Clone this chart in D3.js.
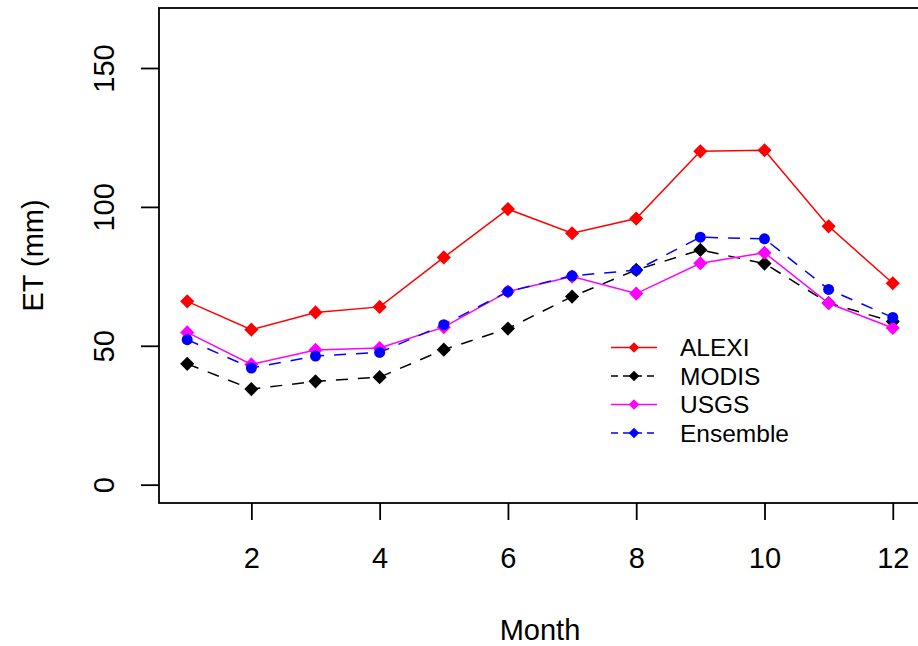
<!DOCTYPE html>
<html lang="en">
<head>
    <meta charset="UTF-8">
    <title>ET by month</title>
    <script src="https://d3js.org/d3.v7.min.js"></script>
    <style>
        body {
            margin: 0;
            background: #fff;
        }
        svg {
            font-family: "Liberation Sans", Arial, sans-serif;
        }
    </style>
</head>
<body>
    <div id="container"></div>

    <script>
        // data
        const months = [1, 2, 3, 4, 5, 6, 7, 8, 9, 10, 11, 12];
        const alexi = [66.0, 55.8, 62.0, 64.0, 81.8, 99.2, 90.5, 95.8, 120.0, 120.4, 93.0, 72.5];
        const modis = [43.5, 34.4, 37.2, 38.7, 48.6, 56.2, 67.7, 77.3, 84.5, 79.6, 65.4, 58.7];
        const usgs = [54.8, 43.3, 48.5, 49.2, 56.7, 69.5, 74.9, 68.8, 79.7, 83.5, 65.3, 56.4];
        const ensemble = [52.2, 42.0, 46.3, 47.6, 57.6, 69.5, 75.2, 77.2, 89.1, 88.5, 70.3, 60.2];

        const seriesNames = ['ALEXI', 'MODIS', 'USGS', 'Ensemble'];
        const xTicks = [2, 4, 6, 8, 10, 12];
        const yTicks = [0, 50, 100, 150];

        const width = 918, height = 646;
        const axisFont = '29px';

        const svg = d3.select('#container').append('svg')
            .attr('width', width)
            .attr('height', height);

        // R style: range extended by 4% on each side
        const x = d3.scaleLinear().domain([0.56, 12.44]).range([159, 921]);
        const y = d3.scaleLinear().domain([-6.6, 171.6]).range([503, 8]);

        const styles = {
            ALEXI: { color: '#ff0000', dash: null, shape: 'diamond' },
            MODIS: { color: '#000000', dash: '12,10', shape: 'diamond' },
            USGS: { color: '#ff00ff', dash: null, shape: 'diamond' },
            Ensemble: { color: '#0000ff', dash: '12,10', shape: 'circle' }
        };
        const values = { ALEXI: alexi, MODIS: modis, USGS: usgs, Ensemble: ensemble };

        svg.append('clipPath').attr('id', 'plotclip')
            .append('rect')
            .attr('x', x.range()[0]).attr('y', y.range()[1])
            .attr('width', x.range()[1] - x.range()[0])
            .attr('height', y.range()[0] - y.range()[1]);

        const plot = svg.append('g').attr('clip-path', 'url(#plotclip)');

        const line = d3.line()
            .x(d => x(d.m))
            .y(d => y(d.v));

        const diamond = d3.symbol(d3.symbolSquare).size(100);

        seriesNames.forEach(name => {
            const st = styles[name];
            const pts = months.map((m, i) => ({ m: m, v: values[name][i] }));

            plot.append('path')
                .datum(pts)
                .attr('d', line)
                .attr('fill', 'none')
                .attr('stroke', st.color)
                .attr('stroke-width', 1.5)
                .attr('stroke-dasharray', st.dash);

            if (st.shape === 'circle') {
                plot.selectAll('.pt-' + name)
                    .data(pts)
                    .enter()
                    .append('circle')
                    .attr('cx', d => x(d.m))
                    .attr('cy', d => y(d.v))
                    .attr('r', 5.5)
                    .attr('fill', st.color);
            } else {
                plot.selectAll('.pt-' + name)
                    .data(pts)
                    .enter()
                    .append('path')
                    .attr('d', diamond)
                    .attr('transform', d => 'translate(' + x(d.m) + ',' + y(d.v) + ') rotate(45)')
                    .attr('fill', st.color);
            }
        });

        // box round the plot
        svg.append('rect')
            .attr('x', x.range()[0]).attr('y', y.range()[1])
            .attr('width', x.range()[1] - x.range()[0])
            .attr('height', y.range()[0] - y.range()[1])
            .attr('fill', 'none')
            .attr('stroke', '#000')
            .attr('stroke-width', 1.8);

        // x axis
        const xAxis = svg.append('g')
            .attr('transform', 'translate(0,' + y.range()[0] + ')')
            .call(d3.axisBottom(x).tickValues(xTicks).tickSize(17).tickPadding(0));
        xAxis.select('.domain').remove();
        xAxis.selectAll('.tick line').attr('stroke', '#000').attr('stroke-width', 1.8);
        xAxis.selectAll('.tick text')
            .attr('y', 65)
            .attr('dy', 0)
            .attr('fill', '#000')
            .style('font-size', axisFont)
            .style('font-family', '"Liberation Sans", Arial, sans-serif');

        // y axis
        const yAxis = svg.append('g')
            .attr('transform', 'translate(' + x.range()[0] + ',0)')
            .call(d3.axisLeft(y).tickValues(yTicks).tickSize(18));
        yAxis.select('.domain').remove();
        yAxis.selectAll('.tick line').attr('stroke', '#000').attr('stroke-width', 1.8);
        yAxis.selectAll('.tick text')
            .attr('x', 0)
            .attr('dy', 0)
            .attr('text-anchor', 'middle')
            .attr('transform', 'translate(' + (114 - x.range()[0]) + ',0) rotate(-90)')
            .attr('fill', '#000')
            .style('font-size', axisFont)
            .style('font-family', '"Liberation Sans", Arial, sans-serif');

        // axis titles
        svg.append('text')
            .attr('x', (x.range()[0] + x.range()[1]) / 2)
            .attr('y', 640)
            .attr('text-anchor', 'middle')
            .style('font-size', axisFont)
            .text('Month');

        svg.append('text')
            .attr('transform', 'translate(43,' + ((y.range()[0] + y.range()[1]) / 2) + ') rotate(-90)')
            .attr('text-anchor', 'middle')
            .style('font-size', axisFont)
            .text('ET (mm)');

        // legend
        const legend = svg.append('g').attr('transform', 'translate(611,347.5)');
        const legendDiamond = d3.symbol(d3.symbolSquare).size(55);

        seriesNames.forEach((name, i) => {
            const st = styles[name];
            const row = legend.append('g').attr('transform', 'translate(0,' + (i * 28.5) + ')');
            row.append('line')
                .attr('x1', 0).attr('x2', 46)
                .attr('y1', 0).attr('y2', 0)
                .attr('stroke', st.color)
                .attr('stroke-width', 1.5)
                .attr('stroke-dasharray', st.dash ? '7,5' : null);
            row.append('path')
                .attr('d', legendDiamond)
                .attr('transform', 'translate(23,0) rotate(45)')
                .attr('fill', st.color);
            row.append('text')
                .attr('x', 69)
                .attr('y', 0)
                .attr('dominant-baseline', 'central')
                .style('font-size', '24.5px')
                .text(name);
        });
    </script>
</body>
</html>
